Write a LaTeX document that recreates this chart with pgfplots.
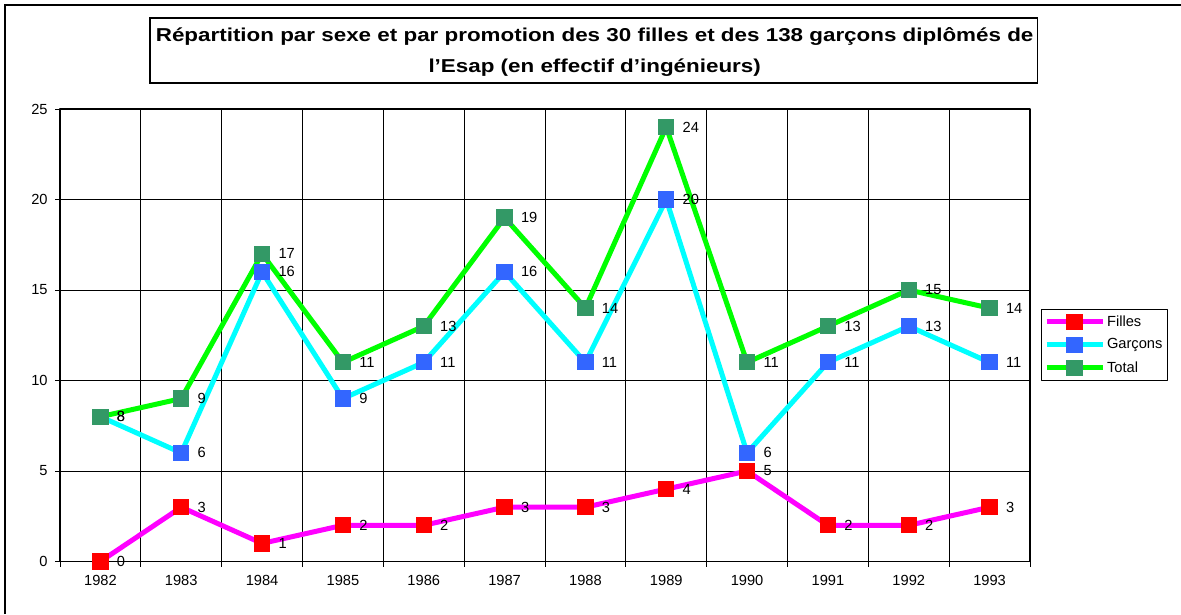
\documentclass[border=0pt]{standalone}
\usepackage{fontspec}
\setmainfont{Liberation Sans}
\usepackage{graphicx}
\usepackage{pgfplots}
\pgfplotsset{compat=1.18}
\definecolor{filline}{HTML}{FF00FF}
\definecolor{filmark}{HTML}{FF0000}
\definecolor{garline}{HTML}{00FFFF}
\definecolor{garmark}{HTML}{3366FF}
\definecolor{totline}{HTML}{00FF00}
\definecolor{totmark}{HTML}{339966}
\begin{document}
\begin{tikzpicture}
\useasboundingbox (0,0) rectangle (885.75pt,460.5pt);
\draw[line width=0.8pt] (3.75pt,0) -- (3.75pt,456.75pt) -- (885.75pt,456.75pt);
\draw[line width=0.8pt] (112.5pt,398.25pt) rectangle (778pt,447pt);
\node[anchor=base,inner sep=0pt,font=\fontsize{14}{16}\selectfont\bfseries] at (446pt,429.2pt) {\scalebox{1.2}[1]{Répartition par sexe et par promotion des 30 filles et des 138 garçons diplômés de}};
\node[anchor=base,inner sep=0pt,font=\fontsize{14}{16}\selectfont\bfseries] at (446pt,405.75pt) {\scalebox{1.2}[1]{l'Esap (en effectif d'ingénieurs)}};
\begin{axis}[
  at={(45pt,39.375pt)}, anchor=south west,
  scale only axis, width=727.5pt, height=339.375pt,
  xmin=-0.5, xmax=11.5, ymin=0, ymax=25,
  xtick={0,1,2,3,4,5,6,7,8,9,10,11},
  xticklabels={1982,1983,1984,1985,1986,1987,1988,1989,1990,1991,1992,1993},
  minor xtick={-0.5,0.5,...,11.5},
  major x tick style={draw=none},
  xminorgrids, ymajorgrids,
  ytick={0,5,10,15,20,25},
  tick pos=left,
  grid style={black, line width=0.6pt},
  minor grid style={black, line width=0.6pt},
  tick align=outside, major tick length=3.75pt, minor tick length=3.75pt,
  tick style={black,line width=0.6pt},
  axis line style={line width=0.9pt},
  ticklabel style={font=\fontsize{11}{13}\selectfont},
  xticklabel style={yshift=-3pt},
  yticklabel style={xshift=-2pt},
  /pgf/number format/assume math mode=true,
  clip=false,
  line join=round,
  nodes near coords, point meta=y,
  nodes near coords style={anchor=west, xshift=9pt, font=\fontsize{11}{13}\selectfont, text=black},
  legend style={at={(1.0113,0.558)}, anchor=north west, draw=black, line width=0.6pt,
    font=\fontsize{11}{13}\selectfont, inner xsep=2pt, inner ysep=3pt, row sep=5pt,
    nodes={inner sep=1.5pt}},
  legend cell align=left,
  legend image code/.code={\draw[mark repeat=2,mark phase=2] plot coordinates {(0pt,0pt) (21pt,0pt) (42pt,0pt)};},
]
\addplot[filline, line width=3.75pt, mark=square*, mark size=5.7pt, mark options={fill=filmark, draw=filmark, line width=0pt}]
 coordinates {(0,0) (1,3) (2,1) (3,2) (4,2) (5,3) (6,3) (7,4) (8,5) (9,2) (10,2) (11,3)};
\addlegendentry{Filles}
\addplot[garline, line width=3.75pt, mark=square*, mark size=5.7pt, mark options={fill=garmark, draw=garmark, line width=0pt}]
 coordinates {(0,8) (1,6) (2,16) (3,9) (4,11) (5,16) (6,11) (7,20) (8,6) (9,11) (10,13) (11,11)};
\addlegendentry{Garçons}
\addplot[totline, line width=3.75pt, mark=square*, mark size=5.7pt, mark options={fill=totmark, draw=totmark, line width=0pt}]
 coordinates {(0,8) (1,9) (2,17) (3,11) (4,13) (5,19) (6,14) (7,24) (8,11) (9,13) (10,15) (11,14)};
\addlegendentry{Total}
\end{axis}
\end{tikzpicture}
\end{document}
